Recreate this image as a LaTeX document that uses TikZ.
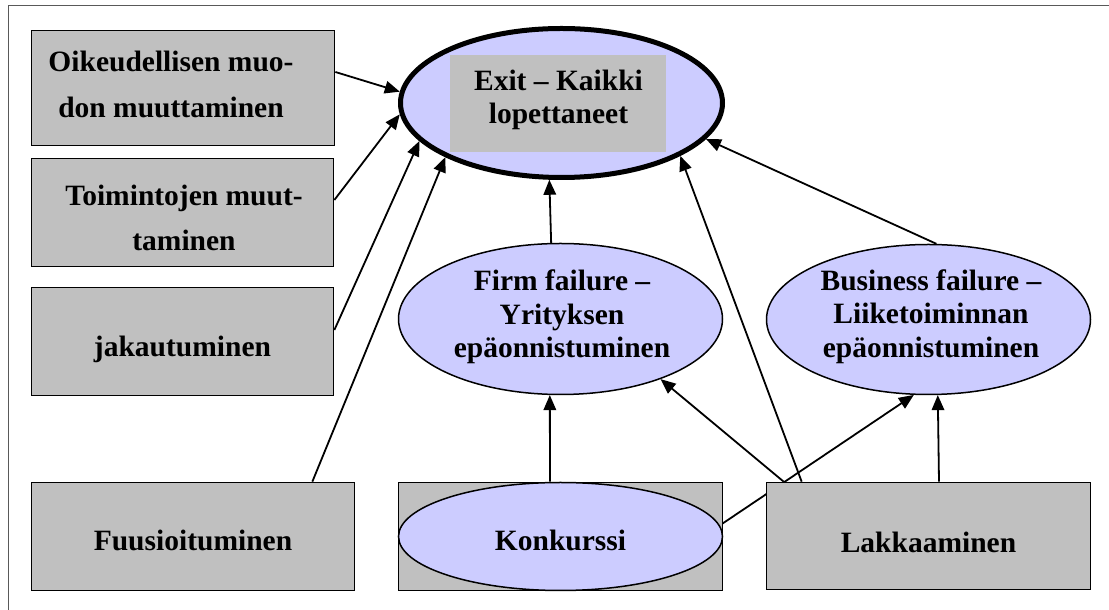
\documentclass[tikz,border=0pt]{standalone}
\usepackage{fontspec}
\setmainfont{Liberation Serif}
\usetikzlibrary{shapes.geometric,arrows.meta,backgrounds}

\definecolor{boxgray}{HTML}{C0C0C0}
\definecolor{lilac}{HTML}{CCCCFF}

\begin{document}
\begin{tikzpicture}[x=1pt,y=1pt,
  every node/.style={font=\bfseries\fontsize{29.5}{33.5}\selectfont, inner sep=0pt},
  graybox/.style={rectangle, draw=black, line width=1.7pt, fill=boxgray},
  oval/.style={ellipse, draw=black, line width=1.5pt, fill=lilac},
  caption/.style={align=center},
  widecaption/.style={align=center, font=\bfseries\fontsize{29.5}{46}\selectfont},
  link/.style={line width=1.8pt, -{Triangle[length=15pt,width=12.5pt]}},
  frameline/.style={draw=black!65, line width=1pt}
]
\useasboundingbox (0,0) rectangle (1109,610);

% left column of cause boxes
\node[graybox, minimum width=303, minimum height=115] (b1) at (183,522) {};
\node[widecaption] (t1) at (171,525.5) {Oikeudellisen muo-\\don muuttaminen};
\node[graybox, minimum width=302, minimum height=108] (b2) at (182.5,397.5) {};
\node[widecaption, font=\bfseries\fontsize{29.5}{45}\selectfont] (t2) at (184,392.3) {Toimintojen muut-\\taminen};
\node[graybox, minimum width=302, minimum height=108, text height=31pt, text depth=0pt] (b3) at (182.5,268.5) {jakautuminen};

% bottom row
\node[graybox, minimum width=323, minimum height=108, text height=29pt, text depth=0pt] (fus) at (193,73.5) {Fuusioituminen};
\node[graybox, minimum width=324, minimum height=108] (kbox) at (560.5,73.5) {};
\node[oval, minimum width=324, minimum height=108, text height=29pt, text depth=0pt] (konk) at (560.5,73.5) {Konkurssi};
\node[graybox, minimum width=324, minimum height=107, text height=34pt, text depth=0pt] (lakk) at (928.5,74) {Lakkaaminen};

% exit ellipse at the top
\node[oval, line width=5pt, minimum width=322, minimum height=149] (exit) at (561.5,507) {};
\node[fill=boxgray, minimum width=216, minimum height=97] (exitbg) at (558,506.5) {};
\node[caption, font=\bfseries\fontsize{29.5}{33}\selectfont] (exitt) at (558.5,510.2) {Exit – Kaikki\\lopettaneet};

% failure ellipses
\node[oval, minimum width=324, minimum height=151] (firm) at (560.5,291) {};
\node[caption] (firmt) at (562,293.1) {Firm failure –\\Yrityksen\\epäonnistuminen};
\node[oval, minimum width=324, minimum height=150] (bus) at (928.5,290.5) {};
\node[caption] (bust) at (931,293.7) {Business failure –\\Liiketoiminnan\\epäonnistuminen};

\begin{scope}[on background layer]
  \draw[frameline] (8.5,0) -- (8.5,604.5) -- (1109,604.5);

  % arrows into the exit ellipse
  \draw[link] ([yshift=16pt]b1.east) -- (exit.176.5);
  \draw[link] ([yshift=12.5pt]b2.east) -- (exit.184.9);
  \draw[link] ([yshift=11.5pt]b3.east) -- (exit.195.6);
  \draw[link] ([xshift=-43pt]fus.north east) -- (exit.205.7);
  \draw[link] (firm.97.9) -- (exit.261.5);
  \draw[link] ([xshift=36pt]lakk.north west) -- (exit.336.5);
  \draw[link] (bus.84) -- (exit.346.7);

  % arrows into the failure ellipses
  \draw[link] ([xshift=-10.5pt]kbox.north) -- (firm.262.1);
  \draw[link] ([xshift=18pt]lakk.north west) -- (firm.329.9);
  \draw[link] (konk.4) -- (bus.259.8);
  \draw[link] ([xshift=10.5pt]lakk.north) -- (bus.277.9);
\end{scope}
\end{tikzpicture}
\end{document}
